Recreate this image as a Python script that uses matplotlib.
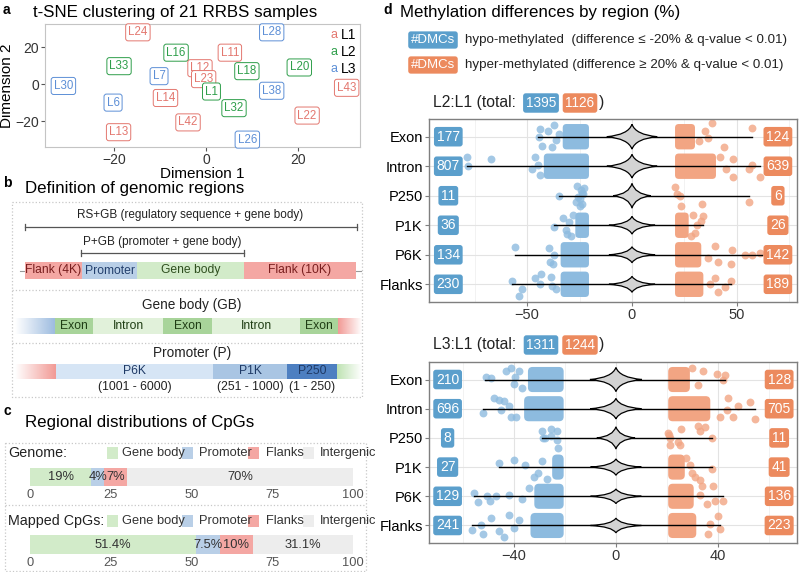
#!/usr/bin/env python3
"""
Four-panel RRBS figure: t-SNE clustering, region schematic,
CpG distributions and DMC methylation differences by region.
"""
import numpy as np
import matplotlib
matplotlib.use('Agg')
import matplotlib.pyplot as plt
from matplotlib.patches import Rectangle, PathPatch, FancyBboxPatch
from matplotlib.path import Path

plt.rcParams['font.family'] = ['Liberation Sans', 'DejaVu Sans']

# ---------------- panel a: t-SNE ----------------
SAMPLES = ['L24', 'L28', 'L16', 'L11', 'L33', 'L12', 'L18', 'L20', 'L7', 'L23', 'L30',
           'L43', 'L1', 'L38', 'L14', 'L6', 'L32', 'L22', 'L42', 'L13', 'L26']
DIM1 = [-14.8, 14.3, -6.5, 5.2, -18.9, -1.3, 8.9, 20.3, -10.2, -0.5, -31.0,
        30.6, 1.2, 14.3, -8.8, -20.2, 6.1, 22.0, -3.9, -19.0, 9.0]
DIM2 = [28.0, 28.0, 17.0, 17.0, 9.7, 8.6, 7.0, 9.0, 4.3, 2.7, -1.0,
        -2.0, -4.0, -3.6, -7.5, -10.0, -13.0, -17.0, -20.7, -26.0, -30.0]
GROUP = ['L1', 'L3', 'L2', 'L1', 'L2', 'L1', 'L2', 'L2', 'L3', 'L1', 'L3',
         'L1', 'L2', 'L3', 'L1', 'L3', 'L2', 'L1', 'L1', 'L1', 'L3']
GROUPS = ['L1', 'L2', 'L3']

# ---------------- panel b: schematic segments (label, start, end) ----------------
GENE_SEGS = [('Flank (4K)', 25, 82), ('Promoter', 82, 137),
             ('Gene body', 137, 244), ('Flank (10K)', 244, 356)]
GB_SEGS = [('Exon', 55, 93), ('Intron', 93, 163), ('Exon', 163, 212),
           ('Intron', 212, 300), ('Exon', 300, 338)]
P_SEGS = [('P6K', 56, 213), ('P1K', 213, 287), ('P250', 287, 337)]
P_RANGES = ['(1001 - 6000)', '(251 - 1000)', '(1 - 250)']

# ---------------- panel c: CpG distributions ----------------
CPG_CATS = ['Gene body', 'Promoter', 'Flanks', 'Intergenic']
GENOME_PCT = [19, 4, 7, 70]
MAPPED_PCT = [51.4, 7.5, 10, 31.1]

# ---------------- panel d: DMCs ----------------
REGIONS = ['Exon', 'Intron', 'P250', 'P1K', 'P6K', 'Flanks']

L2_TOTAL = [1395, 1126]
L2_HYPO_N = [177, 807, 11, 36, 134, 230]
L2_HYPER_N = [124, 639, 6, 26, 142, 189]
L2_MIN = [-44.7, -78.5, -35.0, -37.0, -55.7, -57.0]
L2_MAX = [57.3, 61.0, 55.7, 34.0, 61.8, 47.3]
L2_HYPO_CORE = [(-33, -20.5), (-42, -20.5), None, (-27, -20.5), (-34, -20.5), (-34, -20.5)]
L2_HYPER_CORE = [(20.5, 30), (20.5, 40), None, (20.5, 27), (20.5, 33), (20.5, 34)]
L2_HYPO_PTS = [
    [(-44.5, 0.0), (-44, -0.25), (-40, -0.2), (-43, 0.3), (-37, -0.4), (-38, 0.35), (-36, 0.1), (-35, -0.1)],
    [(-78.5, -0.3), (-78, 0.0), (-67, -0.25), (-46, -0.3), (-47.5, 0.1), (-45, -0.05), (-44, 0.3)],
    [(-35, 0.0), (-26, -0.32), (-24.5, -0.18), (-25.5, 0.05), (-24, 0.28), (-25, 0.35),
     (-23.5, -0.05), (-26.5, 0.2), (-24, -0.1), (-25, 0.12), (-23, -0.25)],
    [(-37, 0.05), (-33, -0.25), (-31, 0.3), (-30, -0.1), (-29, 0.35), (-31.5, 0.15), (-28, -0.35)],
    [(-55.5, -0.25), (-39.5, -0.23), (-39, 0.25), (-37.5, 0.3), (-37, 0.0)],
    [(-57, -0.1), (-52.5, 0.15), (-54, 0.38), (-46, -0.2), (-43.5, -0.36), (-44, 0.0),
     (-38.5, -0.25), (-38, 0.05), (-36, 0.15)],
]
L2_HYPER_PTS = [
    [(57.3, -0.3), (38, -0.45), (35, -0.2), (32, 0.15), (44, 0.35), (36, 0.05)],
    [(48, -0.25), (48, 0.38), (57, -0.05), (55.5, 0.1), (61, 0.38), (45, 0.1), (42, -0.3)],
    [(20.5, -0.28), (21.3, -0.05), (22.8, 0.0), (23.3, 0.34), (33.2, 0.28), (55.7, 0.2)],
    [(34, -0.3), (31, 0.0), (30, 0.25), (33, -0.15), (28, 0.35), (29, -0.35)],
    [(39.7, -0.3), (47.6, -0.15), (54, 0.0), (57, 0.0), (61, -0.05), (47.3, 0.3), (41, 0.25), (36, 0.1)],
    [(47.3, -0.1), (44.5, 0.1), (39.5, -0.2), (41, 0.25), (37, 0.0)],
]
L2_VIOLIN_W = [12, 12, 9, 11, 11, 11]
L2_VIOLIN_H = [0.42, 0.4, 0.42, 0.3, 0.27, 0.27]

L3_TOTAL = [1311, 1244]
L3_HYPO_N = [210, 696, 8, 27, 129, 241]
L3_HYPER_N = [128, 705, 11, 41, 136, 223]
L3_MIN = [-51.4, -52.0, -29.0, -46.0, -55.7, -56.6]
L3_MAX = [42.7, 54.5, 37.5, 37.5, 42.1, 41.0]
L3_HYPO_CORE = [(-34.5, -20.5), (-36, -20.5), None, (-25, -20.5), (-32, -20.5), (-33.5, -20.5)]
L3_HYPER_CORE = [(20.5, 29), (20.5, 37), None, (20.5, 27), (20.5, 30.5), (20.5, 31.5)]
L3_HYPO_PTS = [
    [(-51, -0.1), (-49, -0.05), (-43, -0.3), (-41, -0.4), (-38, -0.3), (-40, 0.15), (-37, 0.3), (-39.5, -0.1)],
    [(-52, 0.15), (-48, -0.35), (-46, -0.3), (-44, -0.25), (-42, -0.1), (-41, 0.3), (-45, 0.05), (-39, 0.3)],
    [(-29.1, -0.23), (-28.5, 0.02), (-25.5, -0.3), (-23.3, -0.23), (-22.7, 0.34), (-23.3, 0.08),
     (-25.3, -0.07), (-28, 0.0)],
    [(-46, -0.15), (-40, -0.25), (-35.5, -0.07), (-32, 0.35), (-29, -0.2), (-30.5, 0.2), (-27, 0.4)],
    [(-55.7, -0.1), (-54, 0.2), (-50.5, 0.0), (-49.5, 0.15), (-47, 0.0), (-42, -0.05), (-37, 0.1), (-34, -0.3)],
    [(-56.6, 0.15), (-53, -0.03), (-52, 0.28), (-49, -0.25), (-46, 0.2), (-44, 0.4), (-42, -0.35),
     (-40, 0.1), (-38, -0.2)],
]
L3_HYPER_PTS = [
    [(39.5, -0.2), (42.7, -0.14), (42, 0.0), (34, -0.3), (32, 0.2), (30, -0.4)],
    [(44, -0.35), (48, -0.1), (52.6, -0.22), (54.5, 0.34), (40.8, 0.28), (46, 0.28), (43.4, 0.05)],
    [(20.5, -0.18), (21.2, 0.02), (21.2, 0.23), (25.1, 0.23), (25.5, -0.32), (32.3, -0.41),
     (33, -0.23), (34.9, -0.38), (37.5, 0.0), (21, -0.1), (24.4, 0.13)],
    [(37.5, 0.05), (33, 0.45), (31, 0.33), (29, -0.07), (27.5, -0.3), (30, 0.2)],
    [(33.6, -0.34), (38.2, -0.34), (38.9, 0.15), (42.1, 0.15), (35.7, 0.28), (33, -0.05)],
    [(40, -0.33), (41, 0.13), (37, -0.05), (36, 0.3)],
]
L3_VIOLIN_W = [10.2, 10, 7.5, 10, 10, 10]
L3_VIOLIN_H = [0.41, 0.35, 0.38, 0.28, 0.25, 0.25]

# ---------------- colours ----------------
GRP_COL = {'L1': '#E3776F', 'L2': '#2E9E4A', 'L3': '#5D8FD6'}
RED, BLUE, GREEN, GREY = '#F4A7A3', '#B9CFE7', '#D2EBC9', '#EDEDED'
HYPO_BOX, HYPER_BOX = '#5B9FCC', '#EC8A5E'
HYPO_PT, HYPER_PT = '#8DBBDF', '#F2A583'

W, H = 800, 572
TITLE_FS = 12.2
fig = plt.figure(figsize=(8, 5.72), dpi=100)


def rect(x0, y0, x1, y1):
    """pixel box (top-left origin) -> figure fraction rect"""
    return [x0 / W, 1 - y1 / H, (x1 - x0) / W, (y1 - y0) / H]


# ================= panel a =================
ax_a = fig.add_axes(rect(45, 24, 360, 147))
for lab, x, y, g in zip(SAMPLES, DIM1, DIM2, GROUP):
    ax_a.text(x, y, lab, color=GRP_COL[g], fontsize=8.3, ha='center', va='center',
              bbox=dict(boxstyle='round,pad=0.22', fc='white', ec=GRP_COL[g], lw=0.7))
for i, g in enumerate(GROUPS):
    yy = 0.91 - i * 0.138
    ax_a.text(0.905, yy, 'a', color=GRP_COL[g], fontsize=9, ha='left', va='center',
              transform=ax_a.transAxes)
    ax_a.text(0.94, yy, g, color='black', fontsize=10, ha='left', va='center',
              transform=ax_a.transAxes)
ax_a.set_xlim(-35, 33.5)
ax_a.set_ylim(-34, 32.5)
ax_a.set_xticks([-20, 0, 20])
ax_a.set_yticks([-20, 0, 20])
for s in ax_a.spines.values():
    s.set_color('#C4C4C4')
    s.set_linewidth(0.8)
ax_a.tick_params(colors='#333333', labelsize=10, length=3, pad=1.5)
ax_a.tick_params(color='#555555')
ax_a.set_xlabel('Dimension 1', fontsize=11, labelpad=0)
ax_a.set_ylabel('Dimension 2', fontsize=11, labelpad=1)


# ================= panel c bars =================
def cpg_bar(box, pcts):
    ax = fig.add_axes(rect(*box))
    left = 0
    cols = [GREEN, BLUE, RED, GREY]
    for v, c in zip(pcts, cols):
        ax.barh(0, v, left=left, height=1.0, color=c, edgecolor='none')
        ax.text(left + v / 2, 0, f'{v:g}%', ha='center', va='center', fontsize=9.3, color='#333333')
        left += v
    ax.set_xlim(0, 100)
    ax.set_ylim(-0.5, 0.5)
    ax.set_yticks([])
    ax.set_xticks([0, 25, 50, 75, 100])
    ax.tick_params(axis='x', length=0, pad=2, labelsize=9.3, labelcolor='#555555')
    for s in ax.spines.values():
        s.set_visible(False)
    ax.patch.set_alpha(0)
    return ax


cpg_bar((30, 468, 353, 486), GENOME_PCT)
cpg_bar((30, 535, 353, 554), MAPPED_PCT)


# ================= panel d =================
def star_violin(ax, c, r, w, h, k=0.15):
    verts = [(c + w, r), (c + k * w, r - k * h), (c, r - h), (c - k * w, r - k * h), (c - w, r),
             (c - k * w, r + k * h), (c, r + h), (c + k * w, r + k * h), (c + w, r), (c + w, r)]
    codes = [Path.MOVETO] + [Path.CURVE3] * 8 + [Path.CLOSEPOLY]
    ax.add_patch(PathPatch(Path(verts, codes), fc='#D3D3D3', ec='black', lw=0.9, zorder=4))


def dmc_panel(box, hypo_n, hyper_n, vmin, vmax, hypo_core, hyper_core, hypo_pts, hyper_pts,
              vw, vh, xlim, ticks, minor, lab_x):
    ax = fig.add_axes(rect(*box))
    rows = np.arange(len(REGIONS))
    # x units per row unit, so rounded corners look round on screen
    px_x = (box[2] - box[0]) / (xlim[1] - xlim[0])
    px_row = (box[3] - box[1]) / (len(REGIONS) + 0.2)
    asp = px_x / px_row
    for r in rows:
        for core, col in ((hypo_core[r], HYPO_PT), (hyper_core[r], HYPER_PT)):
            if core is not None:
                ax.add_patch(FancyBboxPatch((core[0], r - 0.43), core[1] - core[0], 0.86,
                                            boxstyle='round,pad=0,rounding_size=1.8',
                                            mutation_aspect=asp, fc=col, ec='none', zorder=2))
        for pts, col in ((hypo_pts[r], HYPO_PT), (hyper_pts[r], HYPER_PT)):
            px = [p[0] for p in pts]
            py = [r + p[1] for p in pts]
            ax.scatter(px, py, s=32, color=col, alpha=0.8, lw=0, zorder=2)
        ax.plot([vmin[r], vmax[r]], [r, r], color='black', lw=1.0, zorder=3)
        star_violin(ax, 0, r, vw[r], vh[r])
        ax.text(lab_x[0], r, str(hypo_n[r]), ha='center', va='center', color='white', fontsize=10,
                zorder=5, bbox=dict(boxstyle='round,pad=0.2', fc=HYPO_BOX, ec='none'))
        ax.text(lab_x[1], r, str(hyper_n[r]), ha='center', va='center', color='white', fontsize=10,
                zorder=5, bbox=dict(boxstyle='round,pad=0.2', fc=HYPER_BOX, ec='none'))
    ax.set_xlim(*xlim)
    ax.set_ylim(len(REGIONS) - 0.4, -0.6)
    ax.set_yticks(rows)
    ax.set_yticklabels(REGIONS)
    ax.set_xticks(ticks)
    ax.set_xticks(minor, minor=True)
    ax.set_axisbelow(True)
    ax.grid(which='major', color='#E3E3E3', lw=0.8)
    ax.grid(which='minor', axis='x', color='#F0F0F0', lw=0.6)
    ax.tick_params(which='minor', length=0)
    ax.tick_params(axis='both', which='major', length=3, color='#7F7F7F', labelsize=10.5, pad=1.5)
    ax.tick_params(axis='x', labelcolor='#333333')
    for s in ax.spines.values():
        s.set_color('#7F7F7F')
        s.set_linewidth(1.0)
    return ax


dmc_panel((429, 119, 797, 302), L2_HYPO_N, L2_HYPER_N, L2_MIN, L2_MAX, L2_HYPO_CORE, L2_HYPER_CORE,
          L2_HYPO_PTS, L2_HYPER_PTS, L2_VIOLIN_W, L2_VIOLIN_H,
          (-96.7, 78.6), [-50, 0, 50], [-75, -25, 25, 75], (-87.5, 69.5))
dmc_panel((429, 362, 797, 543), L3_HYPO_N, L3_HYPER_N, L3_MIN, L3_MAX, L3_HYPO_CORE, L3_HYPER_CORE,
          L3_HYPO_PTS, L3_HYPER_PTS, L3_VIOLIN_W, L3_VIOLIN_H,
          (-73.3, 71.0), [-40, 0, 40], [-60, -20, 20, 60], (-66, 64))

# ================= overlay (pixel coordinates) =================
ov = fig.add_axes([0, 0, 1, 1], facecolor='none')
ov.set_xlim(0, W)
ov.set_ylim(H, 0)
ov.axis('off')

# panel letters and titles
for letter, x, y in (('a', 3, 10), ('b', 3, 183), ('c', 3, 411), ('d', 383, 10)):
    ov.text(x, y, letter, fontsize=10, fontweight='bold', ha='left', va='center')
ov.text(33, 13, 't-SNE clustering of 21 RRBS samples', fontsize=TITLE_FS, va='center')
ov.text(25, 189, 'Definition of genomic regions', fontsize=TITLE_FS, va='center')
ov.text(25, 423, 'Regional distributions of CpGs', fontsize=TITLE_FS, va='center')
ov.text(400, 13, 'Methylation differences by region (%)', fontsize=TITLE_FS, va='center')

# ---- panel b ----
dot = dict(color='#C8C8C8', lw=0.9, ls=':')
ov.plot([12, 362, 362, 12, 12], [202, 202, 397, 397, 202], **dot)
ov.plot([12, 362], [290, 290], **dot)
ov.plot([12, 362], [343, 343], **dot)

ov.text(190, 215, 'RS+GB (regulatory sequence + gene body)', fontsize=8.5, ha='center', va='center',
        color='#222222')
ov.text(162, 242, 'P+GB (promoter + gene body)', fontsize=8.5, ha='center', va='center', color='#222222')
for x0, x1, y in ((25, 357, 227), (81, 244, 253)):
    ov.plot([x0, x1], [y, y], color='#555555', lw=0.9)
    ov.plot([x0, x0], [y - 3, y + 3], color='#555555', lw=0.9)
    ov.plot([x1, x1], [y - 3, y + 3], color='#555555', lw=0.9)

ov.plot([20, 361], [270.5, 270.5], color='#999999', lw=0.8, zorder=1)
gene_fc = [RED, BLUE, GREEN, RED]
gene_tc = ['#7A1F1F', '#23406E', '#2F4F1F', '#7A1F1F']
for (lab, x0, x1), fc, tc in zip(GENE_SEGS, gene_fc, gene_tc):
    ov.add_patch(Rectangle((x0, 262), x1 - x0, 17, fc=fc, ec='none', zorder=2))
    ov.text((x0 + x1) / 2, 270.5, lab, fontsize=8.7, ha='center', va='center', color=tc, zorder=3)


def gradient(x0, x1, y0, y1, color, fade_left):
    rgb = matplotlib.colors.to_rgb(color)
    n = 64
    img = np.zeros((1, n, 4))
    img[..., :3] = rgb
    a = np.linspace(0, 1, n)
    img[0, :, 3] = a if fade_left else a[::-1]
    ov.imshow(img, extent=(x0, x1, y1, y0), aspect='auto', zorder=2, interpolation='bilinear')


ov.text(192, 305, 'Gene body (GB)', fontsize=9.8, ha='center', va='center', color='#222222')
gradient(15, 55, 318, 334, '#9DBCE0', True)
gradient(338, 362, 318, 334, '#F29A95', False)
for lab, x0, x1 in GB_SEGS:
    fc = '#A8D49A' if lab == 'Exon' else '#E1F1DA'
    ov.add_patch(Rectangle((x0, 318), x1 - x0, 16, fc=fc, ec='none', zorder=2))
    ov.text((x0 + x1) / 2, 326, lab, fontsize=8.7, ha='center', va='center', color='#1F3D14', zorder=3)

ov.text(192, 353, 'Promoter (P)', fontsize=9.8, ha='center', va='center', color='#222222')
gradient(15, 56, 364, 379, '#F29A95', True)
gradient(337, 362, 364, 379, '#BFE3B3', False)
p_fc = ['#D6E5F5', '#A9C5E3', '#4D7FC1']
for (lab, x0, x1), fc, rng in zip(P_SEGS, p_fc, P_RANGES):
    ov.add_patch(Rectangle((x0, 364), x1 - x0, 15, fc=fc, ec='none', zorder=2))
    ov.text((x0 + x1) / 2, 371.5, lab, fontsize=8.7, ha='center', va='center', color='#1F3A66', zorder=3)
    ov.text((x0 + x1) / 2, 387, rng, fontsize=8.7, ha='center', va='center', color='#222222')

# ---- panel c frame + legends ----
ov.plot([5, 366, 366, 5, 5], [443, 443, 571, 571, 443], **dot)
ov.plot([5, 366], [505, 505], **dot)
cat_cols = [GREEN, BLUE, RED, GREY]
sq_x = [107, 182, 248, 303]
txt_x = [122, 199, 266, 320]
for row_lab, y in (('Genome:', 453), ('Mapped CpGs:', 521)):
    ov.text(8, y, row_lab, fontsize=10.3, ha='left', va='center', color='#222222')
    for cat, col, sx, tx in zip(CPG_CATS, cat_cols, sq_x, txt_x):
        ov.add_patch(Rectangle((sx, y - 6), 11, 12, fc=col, ec='none'))
        ov.text(tx, y, cat, fontsize=9.3, ha='left', va='center', color='#333333')

# ---- panel d legend + subtitles ----
for y, txt, col in ((40, 'hypo-methylated  (difference \u2264 -20% & q-value < 0.01)', HYPO_BOX),
                    (65, 'hyper-methylated (difference \u2265 20% & q-value < 0.01)', HYPER_BOX)):
    ov.text(433, y, '#DMCs', fontsize=9.5, ha='center', va='center', color='white',
            bbox=dict(boxstyle='round,pad=0.2', fc=col, ec='none'))
    ov.text(465, y, txt, fontsize=9.6, ha='left', va='center', color='#222222')

for y, name, tot in ((103, 'L2:L1', L2_TOTAL), (345, 'L3:L1', L3_TOTAL)):
    ov.text(433, y, f'{name} (total:', fontsize=11.3, ha='left', va='center', color='#222222')
    ov.text(541, y, str(tot[0]), fontsize=9.8, ha='center', va='center', color='white',
            bbox=dict(boxstyle='round,pad=0.2', fc=HYPO_BOX, ec='none'))
    ov.text(580, y, str(tot[1]), fontsize=9.8, ha='center', va='center', color='white',
            bbox=dict(boxstyle='round,pad=0.2', fc=HYPER_BOX, ec='none'))
    ov.text(599, y, ')', fontsize=11.3, ha='left', va='center', color='#222222')

ov.set_xlim(0, W)
ov.set_ylim(H, 0)

fig.savefig('out.png', dpi=100)
